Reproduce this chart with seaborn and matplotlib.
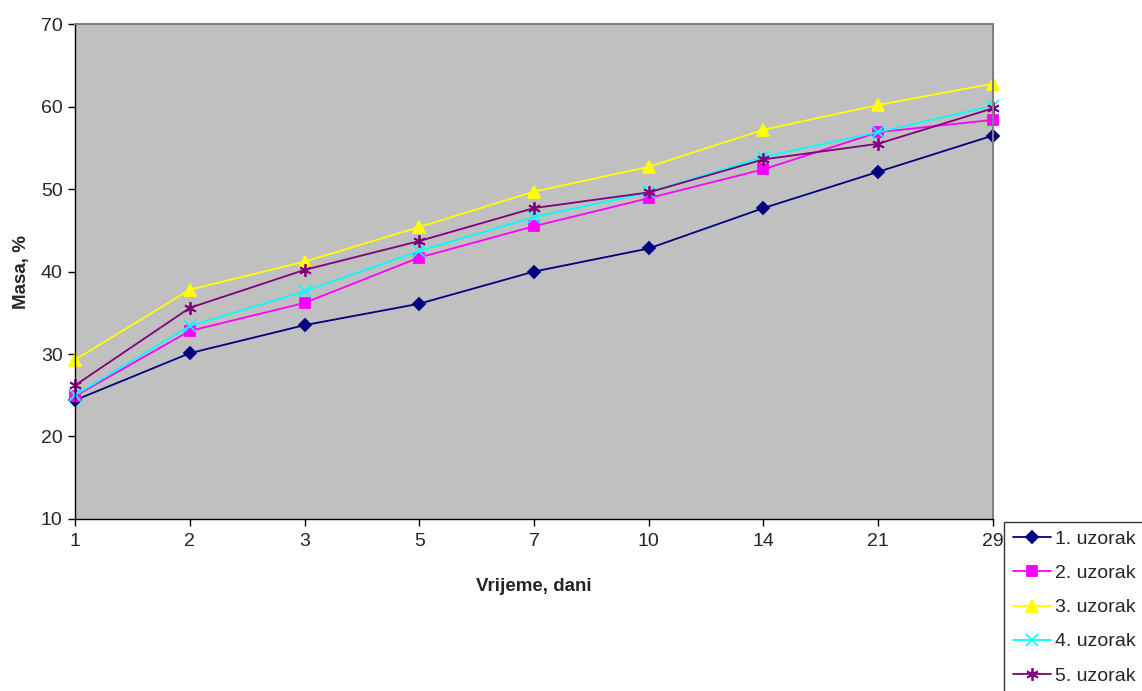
import pandas as pd
import seaborn as sns
import matplotlib.pyplot as plt

# Data
days = ["1", "2", "3", "5", "7", "10", "14", "21", "29"]
uzorak_1 = [24.4, 30.1, 33.5, 36.1, 40.0, 42.8, 47.7, 52.1, 56.5]
uzorak_2 = [24.9, 32.8, 36.2, 41.7, 45.5, 48.9, 52.4, 56.9, 58.4]
uzorak_3 = [29.3, 37.8, 41.2, 45.4, 49.7, 52.7, 57.2, 60.2, 62.8]
uzorak_4 = [25.0, 33.4, 37.6, 42.5, 46.6, 49.6, 53.9, 56.9, 60.1]
uzorak_5 = [26.2, 35.6, 40.2, 43.7, 47.7, 49.6, 53.6, 55.5, 59.8]
series_names = ["1. uzorak", "2. uzorak", "3. uzorak", "4. uzorak", "5. uzorak"]

rows = []
for name, vals in zip(series_names, [uzorak_1, uzorak_2, uzorak_3, uzorak_4, uzorak_5]):
    for d, v in zip(days, vals):
        rows.append({"Dan": d, "Masa": v, "Uzorak": name})
df = pd.DataFrame(rows)

colors = ["#000080", "#FF00FF", "#FFFF00", "#00FFFF", "#800080"]
markers = ["D", "s", "^", "x", (6, 2, 0)]
sizes = [6, 7, 8, 8, 9]

sns.set_style("white")
plt.rcParams['font.family'] = ['Liberation Sans', 'DejaVu Sans']

fig = plt.figure(figsize=(11.42, 6.91), dpi=100)
ax = fig.add_axes([0.0657, 0.249, 0.8038, 0.716])
ax.set_facecolor("#C0C0C0")

for name, col, mk, ms in zip(series_names, colors, markers, sizes):
    sub = df[df["Uzorak"] == name]
    sns.lineplot(data=sub, x="Dan", y="Masa", ax=ax, color=col, marker=mk,
                 markersize=ms, markeredgecolor=col, markeredgewidth=1.3,
                 linewidth=1.3, label=name, sort=False, clip_on=False)

ax.set_xlim(0, len(days) - 1)
ax.set_ylim(10, 70)
ax.set_yticks(range(10, 71, 10))
ax.set_xlabel("Vrijeme, dani", fontsize=13.5, fontweight="bold", labelpad=20)
ax.set_ylabel("Masa, %", fontsize=13.5, fontweight="bold", labelpad=8)
ax.tick_params(axis="both", labelsize=14, direction="out", length=5,
               width=1, color="black", left=True, bottom=True)
ax.tick_params(axis="x", pad=5)
ax.tick_params(axis="y", pad=4)

for side in ["left", "bottom"]:
    ax.spines[side].set_color("black")
    ax.spines[side].set_linewidth(1)
for side in ["top", "right"]:
    ax.spines[side].set_color("#808080")
    ax.spines[side].set_linewidth(1.5)

ax.get_legend().remove()
handles, labels = ax.get_legend_handles_labels()
leg = fig.legend(handles, labels, loc="upper left", bbox_to_anchor=(0.879, 0.245),
                 fontsize=14, frameon=True, fancybox=False, edgecolor="black",
                 handlelength=2.0, labelspacing=0.85, borderpad=0.45,
                 handletextpad=0.2, borderaxespad=0)
leg.get_frame().set_linewidth(1)

fig.savefig("out.png", dpi=100)
